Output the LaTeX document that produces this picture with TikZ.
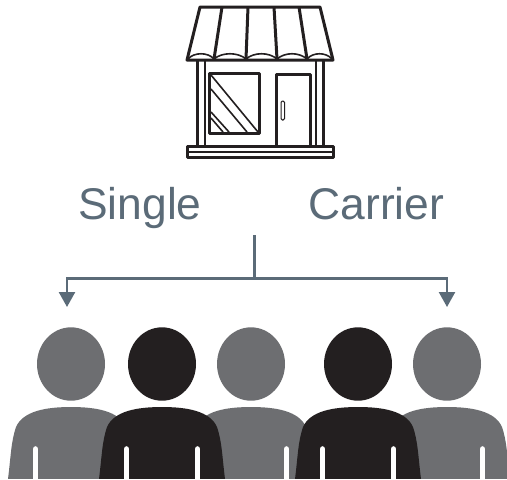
\documentclass[tikz,border=0pt]{standalone}
\usepackage{fontspec}
\setmainfont{Liberation Sans}
\usetikzlibrary{arrows.meta}
\definecolor{slate}{HTML}{5B6B78}
\definecolor{inkdark}{HTML}{231F20}
\definecolor{inkgray}{HTML}{6D6E71}
\tikzset{
  shopline/.style={draw=inkdark,line width=1.5pt,line join=round},
  shopthin/.style={draw=inkdark,line width=0.8pt},
  caption/.style={text=slate,font=\fontsize{22.2pt}{26pt}\selectfont,anchor=base,inner sep=0pt},
  feed/.style={draw=slate,line width=1.2pt},
  feedtip/.style={feed,-{Triangle[width=8pt,length=7.5pt]}},
  slit/.style={draw=white,line width=2.8pt,line cap=round},
  halo/.style={preaction={draw=white,line width=6pt}},
  person/.pic={
    \path[pic actions] (0,-43) ellipse[x radius=34,y radius=36.7];
    \path[pic actions] (-63,72) .. controls (-60,48) and (-60,35) .. (-55,20)
      .. controls (-48,4) and (-25,0) .. (0,0)
      .. controls (25,0) and (48,4) .. (55,20)
      .. controls (60,35) and (60,48) .. (63,72) -- cycle;
    \draw[slit] (-35.5,42) -- (-35.5,80);
    \draw[slit] (35.5,42) -- (35.5,80);
  }
}
\begin{document}
\begin{tikzpicture}[x=0.5pt,y=-0.5pt]
  \useasboundingbox (0,0) rectangle (507,479);
  % shop
  \draw[shopline] (187,60) -- (200,7) -- (320,7) -- (333,60) -- cycle;
  \draw[shopline] (222,7) -- (214,59);
  \draw[shopline] (248,7) -- (246,59);
  \draw[shopline] (274,7) -- (277,59);
  \draw[shopline] (299,7) -- (307,59);
  \draw[shopthin] (188,59) .. controls (194,52) and (208,52) .. (214,59);
  \draw[shopthin] (214,59) .. controls (222,52) and (238,52) .. (246,59);
  \draw[shopthin] (246,59) .. controls (254,52) and (269,52) .. (277,59);
  \draw[shopthin] (277,59) .. controls (285,52) and (299,52) .. (307,59);
  \draw[shopthin] (307,59) .. controls (313,52) and (326,52) .. (332,59);
  \draw[shopline] (197,60) -- (197,146);
  \draw[shopline] (323,60) -- (323,146);
  \draw[shopthin] (205,60) -- (205,146);
  \draw[shopthin] (316,60) -- (316,146);
  \draw[shopline] (209,73) rectangle (259,133);
  \draw[shopline] (276,74) rectangle (310,146);
  \draw[draw=inkdark,line width=0.5pt,rounded corners=0.7pt] (281,101) rectangle (284.5,120);
  \draw[shopthin] (211,75) -- (258,132);
  \draw[shopthin] (211,89) -- (247,132);
  \draw[shopthin] (211,112) -- (229,132);
  \draw[shopthin] (211,118) -- (223,132);
  \draw[shopline] (187,146) rectangle (333,157);
  \draw[shopthin] (187,152) -- (333,152);
  % labels
  \node[caption] (single) at (140,219) {Single};
  \node[caption] (carrier) at (376.5,219) {Carrier};
  % feed lines
  \coordinate (stem) at (254.5,235);
  \coordinate (joint) at (254.5,278.5);
  \coordinate (bendl) at (67,278.5);
  \coordinate (bendr) at (447,278.5);
  \coordinate (tipl) at (67,307);
  \coordinate (tipr) at (447,307);
  \draw[feed] (stem) -- (joint);
  \draw[feedtip] (joint) -- (bendl) -- (tipl);
  \draw[feedtip] (joint) -- (bendr) -- (tipr);
  % people
  \begin{scope}
    \clip (0,0) rectangle (507,478);
    \foreach \px in {71,251,447}
      \pic[fill=inkgray] at (\px,407) {person};
    \foreach \px in {162,358}
      \pic[fill=inkdark,halo] at (\px,407) {person};
  \end{scope}
\end{tikzpicture}
\end{document}
